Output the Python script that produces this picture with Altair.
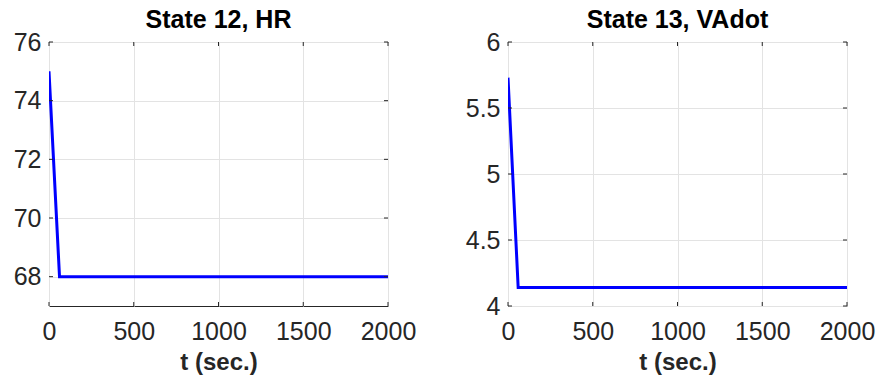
import altair as alt
import pandas as pd

# Simulated state trajectories (time in seconds)
t_hr = [0, 62, 2000]
hr = [75.0, 68.0, 68.0]

t_va = [0, 60, 2000]
va = [5.73, 4.14, 4.14]

x_ticks = [0, 500, 1000, 1500, 2000]
hr_ticks = [68, 70, 72, 74, 76]
va_ticks = [4, 4.5, 5, 5.5, 6]

W, H = 339, 264
FONT = "Liberation Sans"
INK = "#262626"
TICK_LEN = 4


def panel(t, y, title, ydomain, yticks, yfmt):
    df = pd.DataFrame({"t": t, "v": y})
    xs = alt.Scale(domain=[0, 2000], nice=False, zero=False)
    ys = alt.Scale(domain=ydomain, nice=False, zero=False)
    x_axis = alt.Axis(values=x_ticks, title="t (sec.)", format="d")
    y_axis = alt.Axis(values=yticks, title=None, format=yfmt)

    line = alt.Chart(df).mark_line(color="#0000ff", strokeWidth=3, clip=True).encode(
        x=alt.X("t:Q", scale=xs, axis=x_axis),
        y=alt.Y("v:Q", scale=ys, axis=y_axis),
    )

    # short inward tick marks on all four sides of the box
    xt = pd.DataFrame({"t": x_ticks})
    yt = pd.DataFrame({"v": yticks})
    rule = dict(color=INK, strokeWidth=1)
    bottom = alt.Chart(xt).mark_rule(**rule).encode(
        x=alt.X("t:Q", scale=xs, axis=x_axis), y=alt.value(H), y2=alt.value(H - TICK_LEN))
    top = alt.Chart(xt).mark_rule(**rule).encode(
        x=alt.X("t:Q", scale=xs, axis=x_axis), y=alt.value(0), y2=alt.value(TICK_LEN))
    left = alt.Chart(yt).mark_rule(**rule).encode(
        y=alt.Y("v:Q", scale=ys, axis=y_axis), x=alt.value(0), x2=alt.value(TICK_LEN))
    right = alt.Chart(yt).mark_rule(**rule).encode(
        y=alt.Y("v:Q", scale=ys, axis=y_axis), x=alt.value(W), x2=alt.value(W - TICK_LEN))

    return alt.layer(line, bottom, top, left, right).properties(
        width=W, height=H,
        title=alt.TitleParams(
            text=title, font=FONT, fontSize=25, fontWeight="bold",
            color="#000000", baseline="alphabetic", offset=-23, anchor="middle",
        ),
    )


left_panel = panel(t_hr, hr, "State 12, HR", [67, 76], hr_ticks, "d")
right_panel = panel(t_va, va, "State 13, VAdot", [4, 6], va_ticks, ".1~f")

chart = (
    alt.hconcat(left_panel, right_panel, spacing=120, bounds="flush")
    .properties(padding={"left": 12, "top": 7, "right": 0, "bottom": 0},
                background="#ffffff")
    .configure_view(stroke=INK, strokeWidth=1)
    .configure_axis(
        labelFont=FONT, labelFontSize=25, labelColor=INK,
        labelFlush=False, labelOverlap=False,
        titleFont=FONT, titleFontSize=24, titleFontWeight="bold", titleColor=INK,
        domain=False, ticks=False, grid=True, gridColor="#e3e3e3", gridWidth=1,
    )
    .configure_axisX(labelPadding=13, titlePadding=6)
    .configure_axisY(labelPadding=8)
)

chart.save("out.html", embed_options={"renderer": "svg", "actions": False})
